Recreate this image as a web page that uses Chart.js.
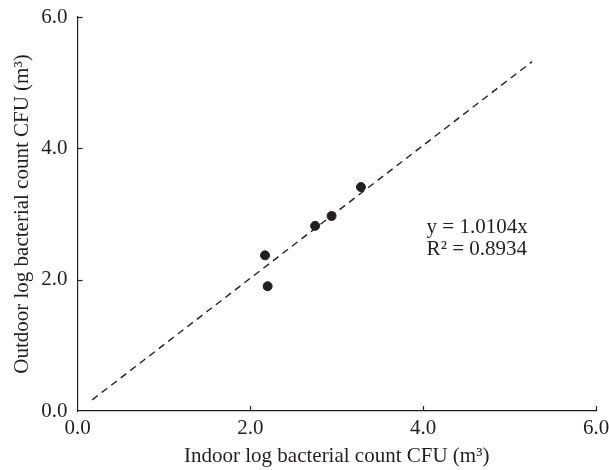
<!DOCTYPE html>
<html>
<head>
<meta charset="utf-8">
<script src="https://cdn.jsdelivr.net/npm/chart.js@4"></script>
<style>
  html, body { margin: 0; padding: 0; background: #fff; }
  #wrap { width: 609px; height: 470px; }
</style>
</head>
<body>
<div id="wrap"><canvas id="chart" width="609" height="470"></canvas></div>
<script>
// -------------------- Data --------------------
const indoorLog = [2.17, 2.20, 2.75, 2.94, 3.28];
const outdoorLog = [2.37, 1.90, 2.82, 2.97, 3.41];
const fitX = [0.17, 5.26];
const fitY = [0.17, 5.32];
const axisTicks = [0, 2, 4, 6];
const eqLines = ["y = 1.0104x", "R\u00b2 = 0.8934"];
const eqAt = { x: 4.04, y: 2.79 };

const FONT = "'Liberation Serif', 'DejaVu Serif', serif";
const INK = "#231f20";

// inward ticks on both axes + equation text
const extras = {
    id: 'extras',
    afterDraw(chart) {
        const { ctx, scales: { x, y }, chartArea } = chart;
        ctx.save();
        ctx.strokeStyle = INK;
        ctx.lineWidth = 1.2;
        axisTicks.forEach(v => {
            if (v === 0) return;
            const px = Math.round(x.getPixelForValue(v)) + 0.5;
            ctx.beginPath();
            ctx.moveTo(px, chartArea.bottom);
            ctx.lineTo(px, chartArea.bottom - 5);
            ctx.stroke();
            const py = Math.round(y.getPixelForValue(v)) + 0.5;
            ctx.beginPath();
            ctx.moveTo(chartArea.left, py);
            ctx.lineTo(chartArea.left + 5, py);
            ctx.stroke();
        });
        ctx.fillStyle = INK;
        ctx.font = "21px " + FONT;
        ctx.textBaseline = "middle";
        ctx.textAlign = "left";
        const ex = x.getPixelForValue(eqAt.x);
        const ey = y.getPixelForValue(eqAt.y);
        ctx.fillText(eqLines[0], ex, ey);
        ctx.fillText(eqLines[1], ex, ey + 22);
        ctx.restore();
    }
};

const axisCommon = {
    type: 'linear',
    min: 0,
    max: 6,
    grid: { display: true, drawOnChartArea: false, drawTicks: false },
    border: { display: true, color: INK, width: 1.2 },
    ticks: {
        stepSize: 2,
        color: INK,
        font: { family: FONT, size: 21 },
        callback: v => Number(v).toFixed(1)
    }
};

new Chart(document.getElementById('chart'), {
    type: 'scatter',
    data: {
        datasets: [
            {
                label: 'Samples',
                data: indoorLog.map((v, i) => ({ x: v, y: outdoorLog[i] })),
                backgroundColor: INK,
                borderColor: INK,
                pointRadius: 4.5,
                pointHoverRadius: 4.5
            },
            {
                label: 'Fit',
                type: 'line',
                data: fitX.map((v, i) => ({ x: v, y: fitY[i] })),
                borderColor: INK,
                borderWidth: 1.4,
                borderDash: [7, 5],
                pointRadius: 0,
                fill: false
            }
        ]
    },
    options: {
        responsive: false,
        animation: false,
        layout: { padding: { top: 17, right: 13, left: 0, bottom: 0 } },
        plugins: { legend: { display: false }, tooltip: { enabled: false } },
        scales: {
            x: {
                ...axisCommon,
                position: 'bottom',
                ticks: { ...axisCommon.ticks, padding: 5, maxRotation: 0 },
                title: {
                    display: true,
                    text: 'Indoor log bacterial count CFU (m\u00b3)',
                    color: INK,
                    font: { family: FONT, size: 21 },
                    padding: { top: 0, bottom: 1 }
                },
                afterFit: s => { s.height = 59; s.paddingLeft = 0; s.paddingRight = 0; }
            },
            y: {
                ...axisCommon,
                position: 'left',
                ticks: { ...axisCommon.ticks, padding: 10 },
                title: {
                    display: true,
                    text: 'Outdoor log bacterial count CFU (m\u00b3)',
                    color: INK,
                    font: { family: FONT, size: 21 },
                    padding: { top: 10, bottom: 0 }
                },
                afterFit: s => { s.width = 77.5; s.paddingTop = 0; s.paddingBottom = 0; }
            }
        }
    },
    plugins: [extras]
});
</script>
</body>
</html>
